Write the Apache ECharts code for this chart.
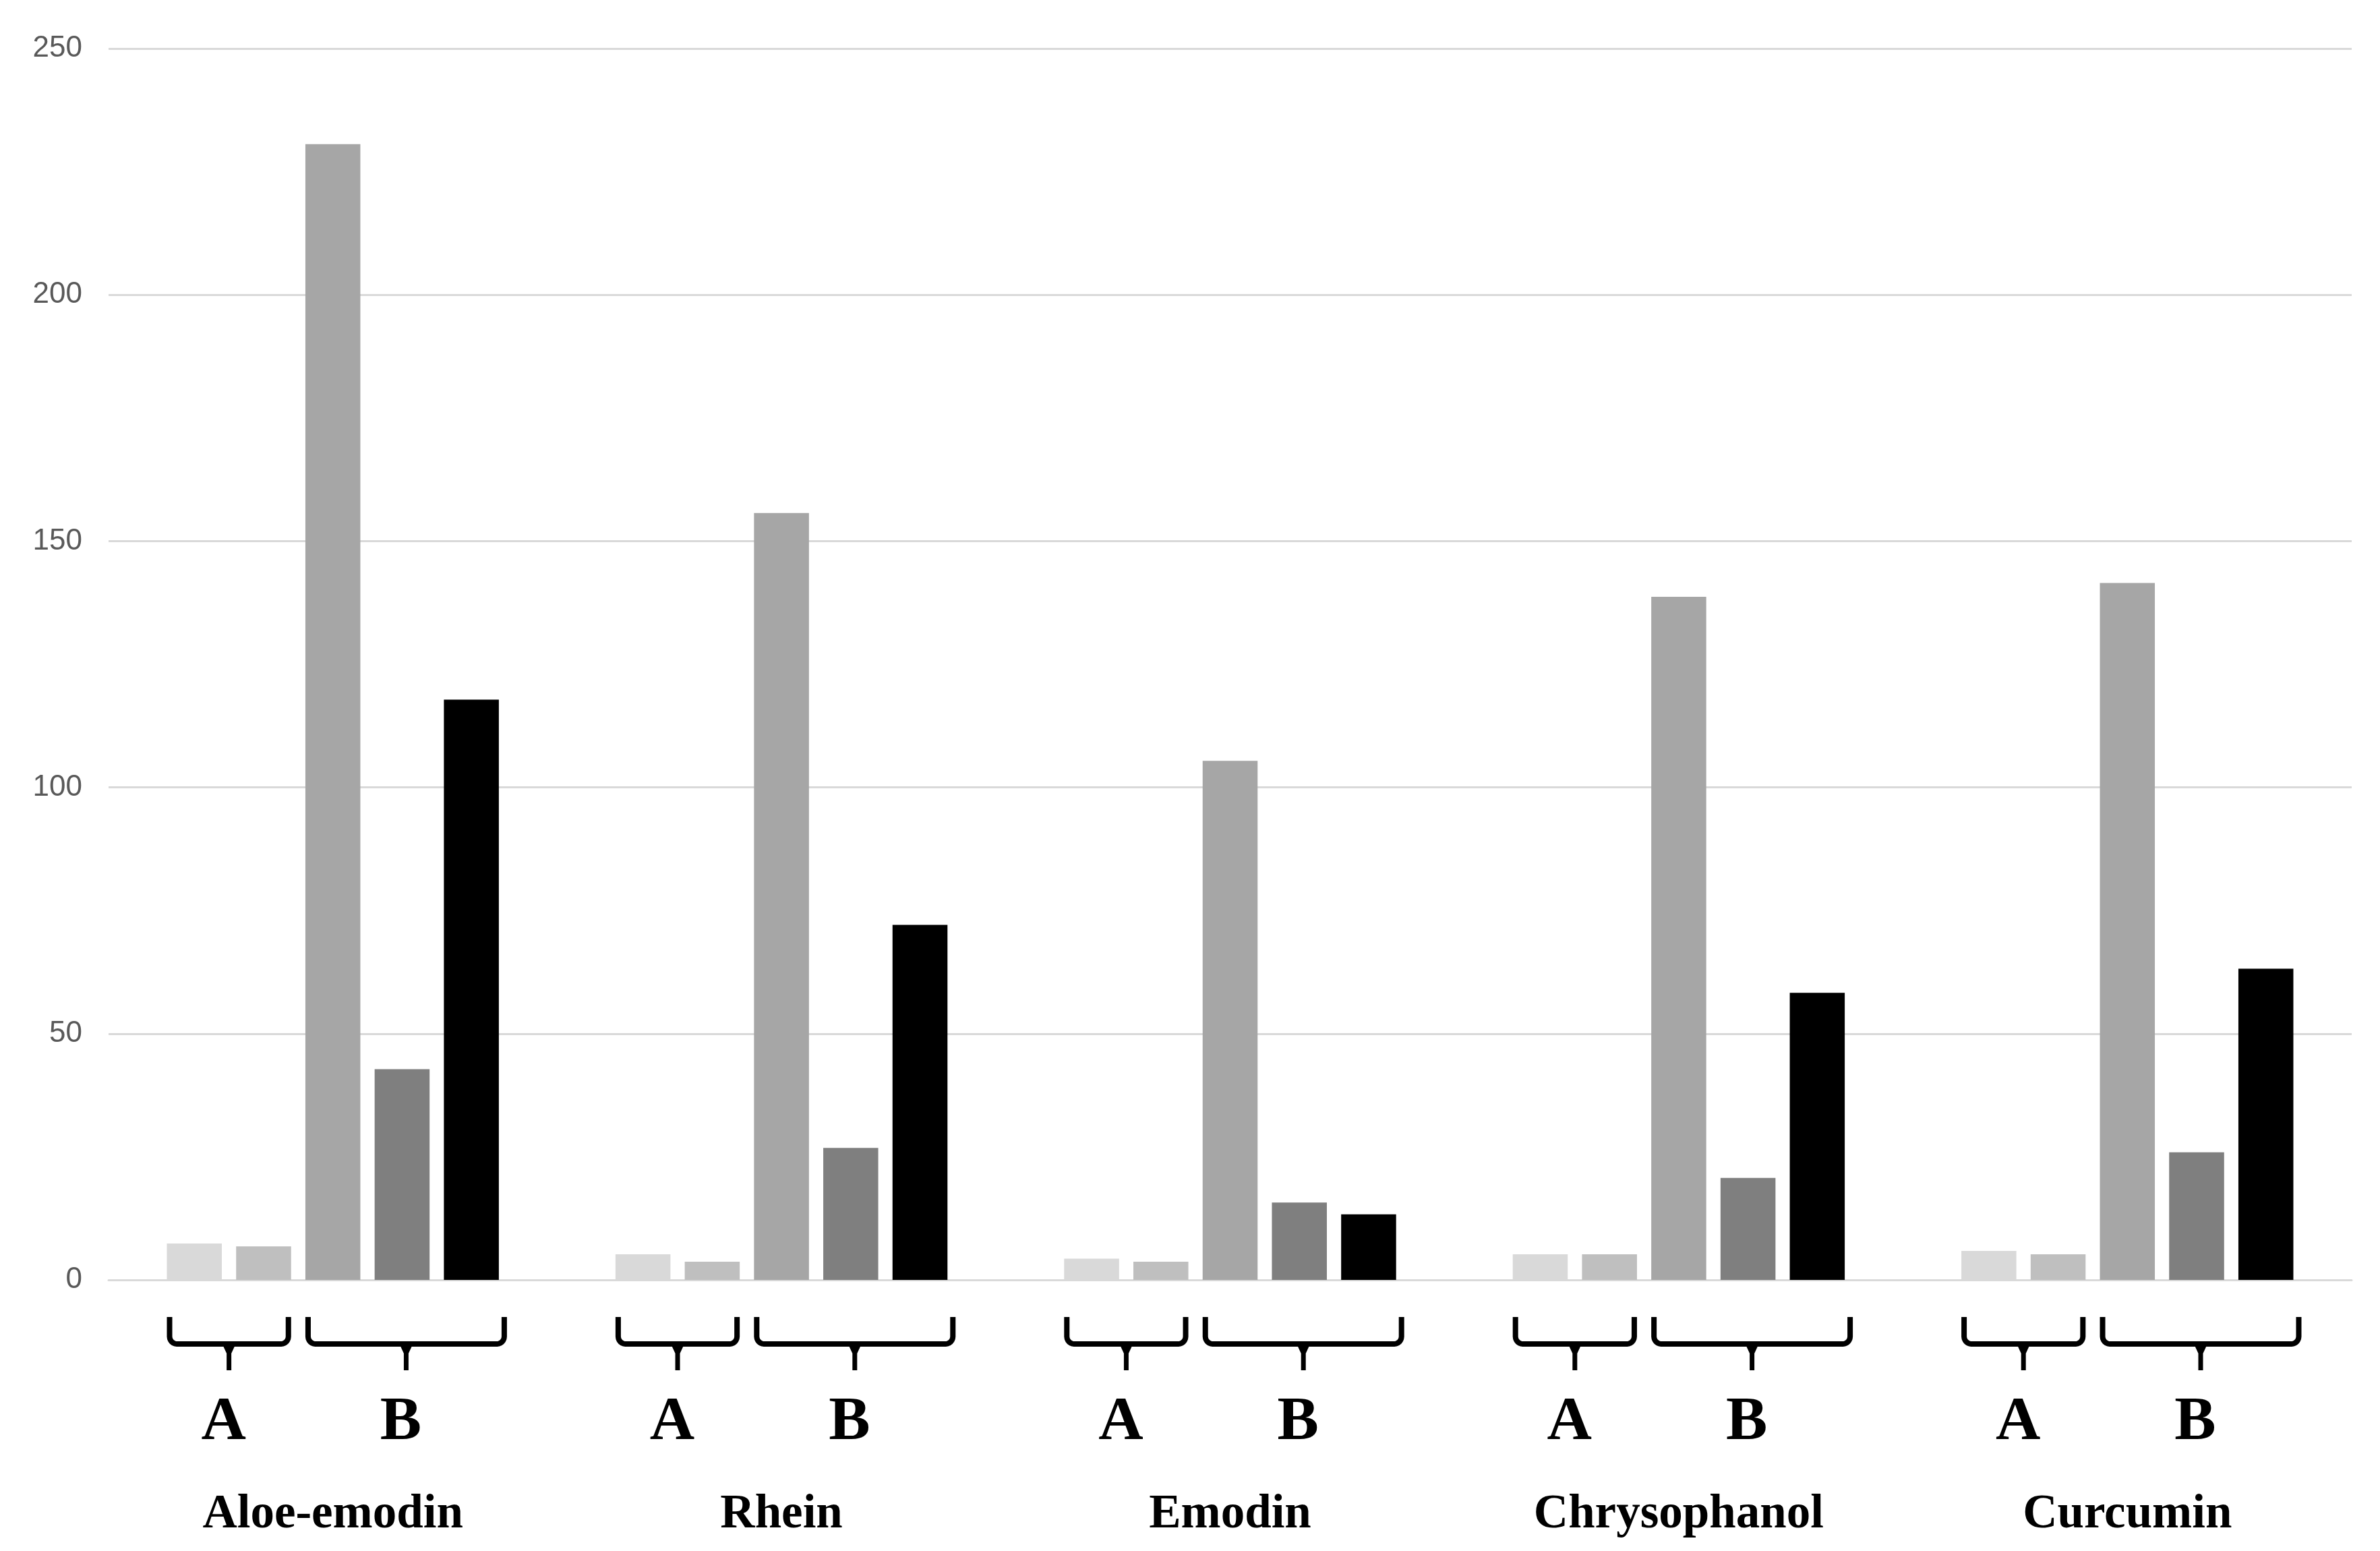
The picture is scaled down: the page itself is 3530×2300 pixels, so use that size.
<!DOCTYPE html>
<html>
<head>
<meta charset="utf-8">
<script src="https://cdn.jsdelivr.net/npm/echarts@6/dist/echarts.min.js"></script>
<style>
html,body{margin:0;padding:0;background:#fff;}
#chart{width:3530px;height:2300px;}
</style>
</head>
<body>
<div id="chart"></div>
<script>
// ---- data ----
const categories = ['Aloe-emodin', 'Rhein', 'Emodin', 'Chrysophanol', 'Curcumin'];
const seriesA1 = [7.4, 5.2, 4.3, 5.2, 5.9];
const seriesA2 = [6.8, 3.7, 3.7, 5.2, 5.2];
const seriesB1 = [230.6, 155.7, 105.4, 138.7, 141.5];
const seriesB2 = [42.8, 26.8, 15.7, 20.7, 25.9];
const seriesB3 = [117.8, 72.1, 13.3, 58.3, 63.2];
const groupLabels = ['A', 'B'];
const groupMembers = [[0, 1], [2, 3, 4]];
const yMin = 0, yMax = 250, yStep = 50;

// ---- styling ----
const barColors = ['#d9d9d9', '#bfbfbf', '#a6a6a6', '#7f7f7f', '#000000'];
const CAT_GAP = 0.26;
const BAR_GAP = 0.26;
const allSeries = [seriesA1, seriesA2, seriesB1, seriesB2, seriesB3];
const NB = allSeries.length;

function braceRender(params, api) {
  const idx = api.value(0);
  const base = api.coord([idx, 0]);
  const band = api.size([1, 0])[0];
  const bw = band * (1 - CAT_GAP) / (NB + (NB - 1) * BAR_GAP);
  const step = bw * (1 + BAR_GAP);
  const total = NB * bw + (NB - 1) * bw * BAR_GAP;
  const start = base[0] - total / 2;
  const y0 = base[1];
  const top = y0 + 55, hy = y0 + 95, bot = y0 + 134;
  const r = 11;
  const children = [];
  groupMembers.forEach(function (g, gi) {
    const left = start + g[0] * step + 4;
    const right = start + g[g.length - 1] * step + bw - 4 + (gi === 1 ? 12 : 0);
    const mid = (left + right) / 2;
    const pts = [[left, top], [left, hy - r]];
    for (let k = 1; k <= 6; k++) {
      const t = (Math.PI / 2) * (k / 6);
      pts.push([left + r - r * Math.cos(t), hy - r + r * Math.sin(t)]);
    }
    for (let k = 0; k <= 6; k++) {
      const t = (Math.PI / 2) * (k / 6);
      pts.push([right - r + r * Math.sin(t), hy - r + r * Math.cos(t)]);
    }
    pts.push([right, top]);
    children.push({
      type: 'polyline',
      shape: { points: pts },
      style: { stroke: '#000', lineWidth: 8, fill: null, lineJoin: 'round' }
    });
    children.push({
      type: 'polygon',
      shape: { points: [[mid - 10, hy], [mid + 10, hy], [mid + 3.5, hy + 14], [mid + 3.5, bot], [mid - 3.5, bot], [mid - 3.5, hy + 14]] },
      style: { fill: '#000' }
    });
    children.push({
      type: 'text',
      style: {
        text: groupLabels[gi],
        x: mid - 8,
        y: y0 + 212,
        fill: '#000',
        font: 'bold 92px "Liberation Serif"',
        align: 'center',
        verticalAlign: 'middle',
        textAlign: 'center',
        textVerticalAlign: 'middle'
      }
    });
  });
  return { type: 'group', children: children };
}

const chart = echarts.init(document.getElementById('chart'), null, { renderer: 'canvas' });
const barSeries = allSeries.map(function (vals, i) {
  return {
    type: 'bar',
    name: 'S' + (i + 1),
    data: vals,
    barCategoryGap: (CAT_GAP * 100) + '%',
    barGap: (BAR_GAP * 100) + '%',
    itemStyle: { color: barColors[i] },
    emphasis: { disabled: true },
    z: 2
  };
});
const option = {
  animation: false,
  backgroundColor: '#ffffff',
  grid: { left: 161, right: 42, top: 72, bottom: 402 },
  xAxis: {
    type: 'category',
    data: categories,
    axisLine: { show: true, lineStyle: { color: '#d9d9d9', width: 3 } },
    axisTick: { show: false },
    axisLabel: {
      margin: 313,
      color: '#000',
      fontFamily: 'Liberation Serif',
      fontWeight: 'bold',
      fontSize: 71
    }
  },
  yAxis: {
    type: 'value',
    min: yMin,
    max: yMax,
    interval: yStep,
    axisLine: { show: false },
    axisTick: { show: false },
    axisLabel: { color: '#595959', fontFamily: 'Liberation Sans', fontSize: 44, margin: 39 },
    splitLine: { lineStyle: { color: '#d9d9d9', width: 3 } }
  },
  series: barSeries.concat([{
    type: 'custom',
    renderItem: braceRender,
    data: categories.map(function (c, i) { return [i]; }),
    encode: { x: 0 },
    clip: false,
    silent: true,
    z: 5
  }])
};
chart.setOption(option);
</script>
</body>
</html>
